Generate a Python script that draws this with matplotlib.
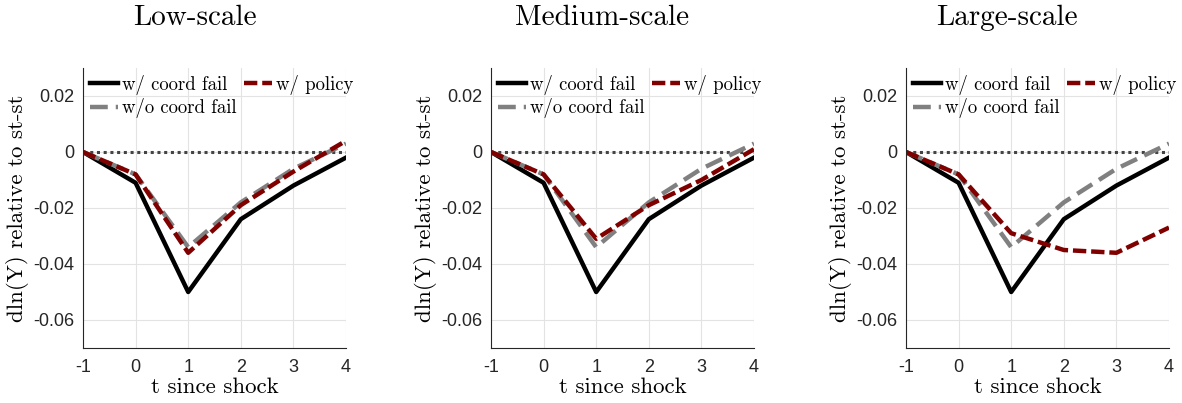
import numpy as np
import matplotlib.pyplot as plt

t = [-1, 0, 1, 2, 3, 4]
titles = ["Low-scale", "Medium-scale", "Large-scale"]

# same in all three panels
coord_fail = [0, -0.011, -0.050, -0.024, -0.012, -0.002]
no_coord_fail = [0, -0.008, -0.034, -0.018, -0.006, 0.003]

# w/ policy differs by panel
policy = [
    [0, -0.008, -0.036, -0.019, -0.007, 0.004],
    [0, -0.008, -0.031, -0.019, -0.010, 0.001],
    [0, -0.008, -0.029, -0.035, -0.036, -0.027],
]

serif = "cmr10"
sans = "Liberation Sans"

fig = plt.figure(figsize=(11.82, 4.03), dpi=100)
lefts = [83, 491, 906]
title_x = [195, 602, 1007]

for i in range(3):
    ax = fig.add_axes([lefts[i] / 1182, 55 / 403, 263 / 1182, 280 / 403])
    ax.plot(t, coord_fail, color="black", lw=3.2, label="w/ coord fail")
    ax.plot(t, no_coord_fail, color="#808080", lw=3.2, ls=(0, (4, 1.8)), label="w/o coord fail")
    ax.plot(t, policy[i], color="#800000", lw=3.2, ls=(0, (3, 1.1)), label="w/ policy")
    ax.axhline(0, color="#444444", lw=2.2, ls=(0, (1, 1.2)), zorder=1)

    ax.set_xlim(-1, 4)
    ax.set_ylim(-0.07, 0.03)
    ax.set_xticks(t)
    ax.set_yticks([-0.06, -0.04, -0.02, 0, 0.02])
    ax.set_yticklabels(["-0.06", "-0.04", "-0.02", "0", "0.02"])
    ax.set_xticklabels([str(v) for v in t])
    for lab in ax.get_xticklabels() + ax.get_yticklabels():
        lab.set_fontfamily(sans)
        lab.set_fontsize(13)
        lab.set_color("#262626")
    ax.tick_params(axis="y", length=0, pad=6)
    ax.tick_params(axis="x", length=0, pad=8)
    ax.grid(True, color="#e3e3e3", lw=0.8)
    ax.set_axisbelow(True)
    for s in ["top", "right"]:
        ax.spines[s].set_visible(False)
    for s in ["left", "bottom"]:
        ax.spines[s].set_color("#262626")
        ax.spines[s].set_linewidth(0.8)

    ax.set_xlabel("t since shock", fontfamily=serif, fontsize=16.5, labelpad=1)
    ax.set_ylabel("dln(Y) relative to st-st", fontfamily=serif, fontsize=16.5, labelpad=3)

    h, l = ax.get_legend_handles_labels()
    ax.legend(h, l, ncol=2, loc="upper left", frameon=False,
              prop={"family": serif, "size": 13.5},
              handlelength=1.5, handletextpad=0.25, columnspacing=0.35,
              labelspacing=0.2, borderaxespad=0.25, borderpad=0.1)

    fig.text(title_x[i] / 1182, 1 - 18 / 403, titles[i], fontfamily=serif,
             fontsize=21, ha="center", va="center")

fig.savefig("out.png", dpi=100)
